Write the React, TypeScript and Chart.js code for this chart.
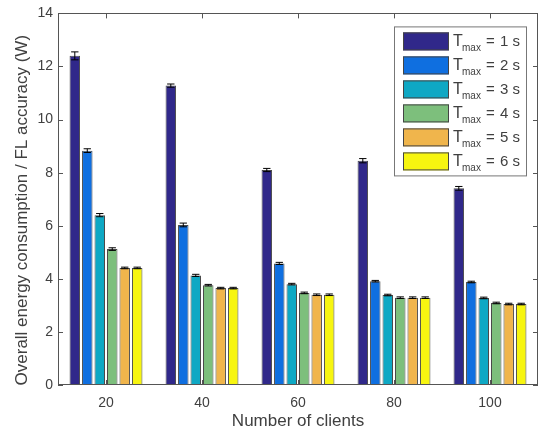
import React, { useEffect, useRef } from "react";
import { Chart, registerables } from "chart.js";

Chart.register(...registerables);

const categories = ["20", "40", "60", "80", "100"];
const seriesNames = ["1 s", "2 s", "3 s", "4 s", "5 s", "6 s"];
const tmax1 = [12.4, 11.28, 8.1, 8.45, 7.41];
const tmax2 = [8.83, 6.03, 4.58, 3.91, 3.88];
const tmax3 = [6.4, 4.13, 3.8, 3.39, 3.28];
const tmax4 = [5.12, 3.76, 3.47, 3.29, 3.09];
const tmax5 = [4.41, 3.65, 3.4, 3.29, 3.05];
const tmax6 = [4.41, 3.65, 3.4, 3.29, 3.05];
const err1 = [0.15, 0.06, 0.06, 0.08, 0.07];
const err2 = [0.07, 0.07, 0.04, 0.03, 0.03];
const err3 = [0.06, 0.04, 0.03, 0.03, 0.03];
const err4 = [0.05, 0.03, 0.03, 0.03, 0.03];
const err5 = [0.03, 0.03, 0.03, 0.03, 0.03];
const err6 = [0.03, 0.03, 0.03, 0.03, 0.03];
const yTicks = [0, 2, 4, 6, 8, 10, 12, 14];
const yTitle = "Overall energy consumption / FL accuracy (W)";
const xTitle = "Number of clients";

const seriesValues = [tmax1, tmax2, tmax3, tmax4, tmax5, tmax6];
const seriesErrors = [err1, err2, err3, err4, err5, err6];
const colors = ["#30288a", "#0f6fe0", "#0ea8c4", "#7dbf7c", "#f0b54c", "#f7f510"];

const FONT = "'Liberation Sans', Arial, Helvetica, sans-serif";
const TEXT = "#404040";
const AXIS = "#555555";

const overlayPlugin = {
  id: "overlay",
  afterDatasetsDraw(chart: any) {
    const ctx = chart.ctx;
    const { left, right, top, bottom } = chart.chartArea;
    const yScale = chart.scales.y;
    const xScale = chart.scales.x;
    ctx.save();
    // error bars
    ctx.strokeStyle = "#000";
    ctx.lineWidth = 1;
    chart.data.datasets.forEach((ds: any, di: number) => {
      const meta = chart.getDatasetMeta(di);
      meta.data.forEach((bar: any, i: number) => {
        const v = ds.data[i];
        const e = seriesErrors[di][i];
        const x = bar.x;
        const y1 = yScale.getPixelForValue(v + e);
        const y2 = yScale.getPixelForValue(v - e);
        const hw = bar.width * 0.35;
        ctx.beginPath();
        ctx.moveTo(x, y1);
        ctx.lineTo(x, y2);
        ctx.moveTo(x - hw, y1);
        ctx.lineTo(x + hw, y1);
        ctx.moveTo(x - hw, y2);
        ctx.lineTo(x + hw, y2);
        ctx.stroke();
      });
    });
    // axes box and inward ticks
    ctx.strokeStyle = AXIS;
    ctx.lineWidth = 1;
    ctx.strokeRect(Math.round(left) + 0.5, Math.round(top) + 0.5, Math.round(right - left) - 1, Math.round(bottom - top) - 1);
    const tl = 5;
    ctx.beginPath();
    yTicks.forEach((t) => {
      const y = Math.round(yScale.getPixelForValue(t)) + 0.5;
      ctx.moveTo(left, y);
      ctx.lineTo(left + tl, y);
      ctx.moveTo(right, y);
      ctx.lineTo(right - tl, y);
    });
    categories.forEach((_c, i) => {
      const x = Math.round(xScale.getPixelForValue(i)) + 0.5;
      ctx.moveTo(x, bottom);
      ctx.lineTo(x, bottom - tl);
      ctx.moveTo(x, top);
      ctx.lineTo(x, top + tl);
    });
    ctx.stroke();

    // y axis title
    ctx.save();
    ctx.translate(22, (top + bottom) / 2 + 11);
    ctx.rotate(-Math.PI / 2);
    ctx.fillStyle = TEXT;
    ctx.font = `17px ${FONT}`;
    ctx.textAlign = "center";
    ctx.textBaseline = "middle";
    ctx.fillText(yTitle, 0, 0);
    ctx.restore();

    // legend
    const bx = right - 144;
    const by = top + 13;
    const bw = 132;
    const bh = 149;
    ctx.fillStyle = "#ffffff";
    ctx.fillRect(bx, by, bw, bh);
    ctx.strokeStyle = "#777";
    ctx.strokeRect(bx + 0.5, by + 0.5, bw, bh);
    seriesNames.forEach((name, i) => {
      const sy = by + 6 + i * 24;
      ctx.fillStyle = colors[i];
      ctx.fillRect(bx + 9, sy, 46, 18);
      ctx.strokeStyle = "#444";
      ctx.strokeRect(bx + 9.5, sy + 0.5, 45, 17);
      ctx.fillStyle = TEXT;
      ctx.textBaseline = "alphabetic";
      ctx.textAlign = "left";
      ctx.font = `16px ${FONT}`;
      const tx = bx + 59;
      const base = sy + 14;
      ctx.fillText("T", tx, base);
      ctx.font = `10px ${FONT}`;
      ctx.fillText("max", tx + 9, base + 5);
      ctx.font = `15px ${FONT}`;
      ctx.fillText("=", tx + 33, base);
      ctx.fillText(name, tx + 47, base);
    });
    ctx.restore();
  },
};

export default function App() {
  const ref = useRef<HTMLCanvasElement | null>(null);
  useEffect(() => {
    if (!ref.current) return;
    const chart = new Chart(ref.current, {
      type: "bar",
      data: {
        labels: categories,
        datasets: seriesValues.map((vals, i) => ({
          label: "Tmax = " + seriesNames[i],
          data: vals,
          backgroundColor: colors[i],
          borderColor: "#4a4a4a",
          borderWidth: 1,
          categoryPercentage: 0.78,
          barPercentage: 0.84,
        })),
      },
      options: {
        animation: false,
        responsive: false,
        maintainAspectRatio: false,
        layout: { padding: { top: 9, right: 3, left: 0, bottom: 0 } },
        plugins: { legend: { display: false }, tooltip: { enabled: false } },
        scales: {
          x: {
            grid: { display: false, drawTicks: false },
            border: { display: false },
            ticks: { color: TEXT, font: { family: FONT, size: 14 }, padding: 10 },
            title: {
              display: true,
              text: xTitle,
              color: TEXT,
              font: { family: FONT, size: 17 },
              padding: { top: 0, bottom: 4 },
            },
            afterFit: (s: any) => {
              s.height = 51;
            },
          },
          y: {
            min: 0,
            max: 14,
            grid: { display: false, drawTicks: false },
            border: { display: false },
            ticks: { stepSize: 2, color: TEXT, font: { family: FONT, size: 14 }, padding: 5 },
            afterFit: (s: any) => {
              s.width = 58;
            },
          },
        },
      },
      plugins: [overlayPlugin],
    });
    return () => chart.destroy();
  }, []);
  return (
    <div style={{ position: "fixed", left: 0, top: 0, width: 541, height: 436, background: "#fff" }}>
      <canvas ref={ref} width={541} height={436} style={{ width: 541, height: 436, display: "block" }} />
    </div>
  );
}
